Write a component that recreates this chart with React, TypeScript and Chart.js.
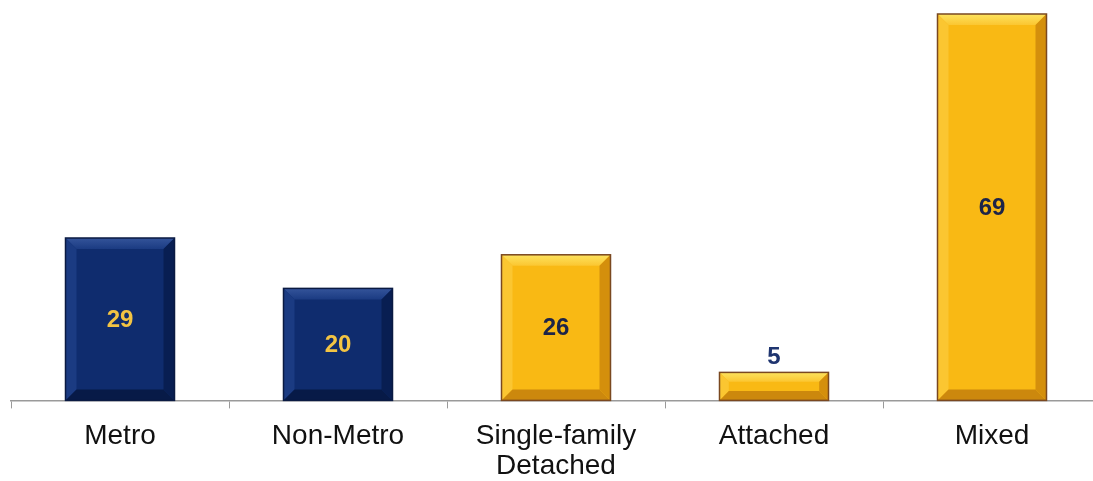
import React, { useEffect, useRef } from "react";
import { Chart, registerables } from "chart.js";

Chart.register(...registerables);

// Categories (multi-line labels as arrays) and their values
const categories: (string | string[])[] = [
  "Metro",
  "Non-Metro",
  ["Single-family", "Detached"],
  "Attached",
  "Mixed",
];
const values: number[] = [29, 20, 26, 5, 69];
// Which group each bar belongs to: location vs. housing type
const groups: string[] = ["location", "location", "housing", "housing", "housing"];

const palette: Record<string, any> = {
  location: {
    body: "#0f2c6e",
    top: "#34549a",
    left: "#1b3b82",
    right: "#081e52",
    bottom: "#071a47",
    border: "#0a1a42",
    label: "#f3c443",
    outside: "#f3c443",
  },
  housing: {
    body: "#f9b914",
    top: "#fde35e",
    left: "#fbc631",
    right: "#d48f0c",
    bottom: "#cc880d",
    border: "#7a4820",
    label: "#1d2448",
    outside: "#1f3570",
  },
};

const FONT = "'Liberation Sans', Arial, sans-serif";

// Draws the bevelled faces, outline and value label of each bar
const bevelPlugin = {
  id: "bevel",
  afterDatasetsDraw(chart: any) {
    const ctx = chart.ctx as CanvasRenderingContext2D;
    const meta = chart.getDatasetMeta(0);
    meta.data.forEach((bar: any, i: number) => {
      const p = palette[groups[i]];
      const { x, y, base, width } = bar.getProps(["x", "y", "base", "width"], true);
      const l = x - width / 2;
      const r = x + width / 2;
      const t = Math.min(y, base);
      const b = Math.max(y, base);
      const h = b - t;
      const bv = Math.min(11, h / 3);

      const poly = (pts: number[][], fill: string | CanvasGradient) => {
        ctx.beginPath();
        ctx.moveTo(pts[0][0], pts[0][1]);
        for (let k = 1; k < pts.length; k++) ctx.lineTo(pts[k][0], pts[k][1]);
        ctx.closePath();
        ctx.fillStyle = fill;
        ctx.fill();
      };
      ctx.save();
      // top face
      const gTop = ctx.createLinearGradient(0, t, 0, t + bv);
      gTop.addColorStop(0, p.top);
      gTop.addColorStop(1, p.left);
      poly([[l, t], [r, t], [r - bv, t + bv], [l + bv, t + bv]], gTop);
      // left face
      poly([[l, t], [l + bv, t + bv], [l + bv, b - bv], [l, b]], p.left);
      // right face
      poly([[r, t], [r - bv, t + bv], [r - bv, b - bv], [r, b]], p.right);
      // bottom face
      poly([[l, b], [l + bv, b - bv], [r - bv, b - bv], [r, b]], p.bottom);
      // outline
      ctx.strokeStyle = p.border;
      ctx.lineWidth = 1.5;
      ctx.strokeRect(l, t, r - l, b - t);

      // value label
      ctx.font = `bold 24px ${FONT}`;
      ctx.textAlign = "center";
      const v = String(values[i]);
      if (h > 45) {
        ctx.fillStyle = p.label;
        ctx.textBaseline = "middle";
        ctx.fillText(v, x, (t + b) / 2 + 1);
      } else {
        ctx.fillStyle = p.outside;
        ctx.textBaseline = "bottom";
        ctx.fillText(v, x, t - 3);
      }
      ctx.restore();
    });
  },
};

export default function App() {
  const ref = useRef<HTMLCanvasElement | null>(null);

  useEffect(() => {
    if (!ref.current) return;
    const chart = new Chart(ref.current, {
      type: "bar",
      data: {
        labels: categories,
        datasets: [
          {
            data: values,
            backgroundColor: groups.map((g) => palette[g].body),
            borderWidth: 0,
            barPercentage: 0.5,
            categoryPercentage: 1,
          },
        ],
      },
      options: {
        animation: false,
        responsive: true,
        maintainAspectRatio: false,
        layout: { padding: { left: 11, right: 9, top: 0, bottom: 0 } },
        plugins: {
          legend: { display: false },
          tooltip: { enabled: false },
        },
        scales: {
          x: {
            offset: true,
            grid: {
              display: true,
              offset: true,
              drawOnChartArea: false,
              drawTicks: true,
              tickLength: 8,
              color: "#9a9a9a",
            },
            border: { display: true, color: "#9a9a9a", width: 1.5 },
            ticks: {
              color: "#111111",
              padding: 12,
              maxRotation: 0,
              font: { family: FONT, size: 28, lineHeight: 1.1 },
            },
          },
          y: {
            display: false,
            min: 0,
            max: 71.5,
          },
        },
      },
      plugins: [bevelPlugin],
    });
    return () => chart.destroy();
  }, []);

  return (
    <div
      style={{
        position: "fixed",
        left: 0,
        top: 0,
        width: 1093,
        height: 481,
        overflow: "hidden",
        background: "#ffffff",
      }}
    >
      <div style={{ position: "relative", width: 1110, height: 494 }}>
        <canvas ref={ref} />
      </div>
    </div>
  );
}
